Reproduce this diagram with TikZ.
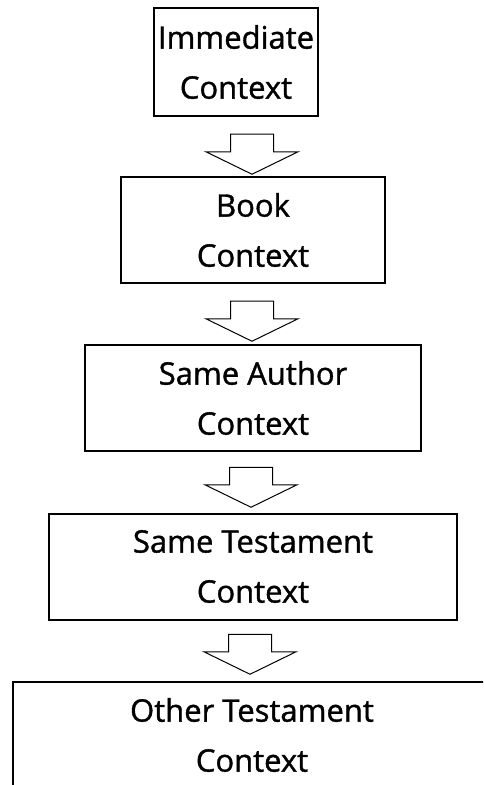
\documentclass[tikz,border=0pt]{standalone}
\usepackage{fontspec}
\newfontfamily\ctxfont{Open Sans}[FakeBold=1.2]
\usepackage{tikz}
\usetikzlibrary{shapes.arrows}

\begin{document}
\begin{tikzpicture}[
    x=1pt, y=-1pt,
    box/.style={rectangle, draw=black, line width=2pt, minimum height=106pt, align=center,
        font=\ctxfont\fontsize{31}{50}\selectfont},
    down/.style={single arrow, draw=black, line width=1pt, rotate=-90, inner xsep=0pt, inner ysep=21pt,
        minimum height=40pt, single arrow head extend=24.5pt, single arrow tip angle=128}
]
    \useasboundingbox (0,0) rectangle (483,785);
    \clip (0,0) rectangle (483,785);

    % Context levels
    \node[box, minimum width=164pt, minimum height=108pt] (immediate) at (236,62) {Immediate\\Context};
    \node[box, minimum width=264pt] (book) at (253,230) {Book\\Context};
    \node[box, minimum width=336pt] (author) at (253,398) {Same Author\\Context};
    \node[box, minimum width=408pt] (testament) at (253,566.5) {Same Testament\\Context};
    \node[box, minimum width=478pt] (other) at (252,735) {Other Testament\\Context};

    % Block arrows between levels
    \node[down] (a1) at (252,149) {};
    \node[down] (a2) at (252,316) {};
    \node[down] (a3) at (251,482) {};
    \node[down] (a4) at (250,649) {};
\end{tikzpicture}
\end{document}
